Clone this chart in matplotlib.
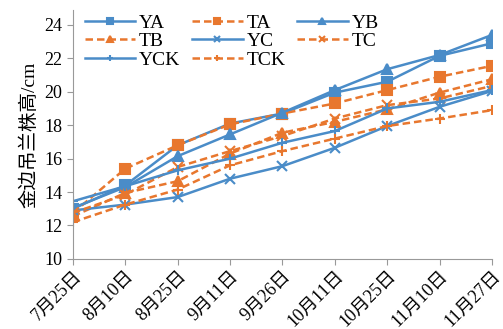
import numpy as np
import matplotlib
matplotlib.use('Agg')
import matplotlib.pyplot as plt

plt.rcParams['font.family'] = ['Liberation Serif', 'Noto Sans CJK SC']

dates = ['7月25日', '8月10日', '8月25日', '9月11日', '9月26日',
         '10月11日', '10月25日', '11月10日', '11月27日']

YA = [13.0, 14.4, 16.8, 18.1, 18.7, 19.95, 20.6, 22.15, 22.9]
TA = [12.75, 15.4, 16.8, 18.05, 18.7, 19.3, 20.1, 20.9, 21.55]
YB = [13.05, 14.3, 16.15, 17.45, 18.75, 20.1, 21.35, 22.2, 23.4]
TB = [12.55, 13.95, 14.65, 16.3, 17.55, 18.2, 18.95, 19.95, 20.75]
YC = [12.9, 13.25, 13.7, 14.8, 15.55, 16.65, 17.95, 19.1, 20.05]
TC = [12.75, 13.85, 15.5, 16.45, 17.35, 18.4, 19.2, 19.6, 20.35]
YCK = [13.45, 14.35, 15.3, 16.0, 16.95, 17.65, 19.0, 19.4, 20.1]
TCK = [12.2, 13.25, 14.15, 15.6, 16.45, 17.2, 17.95, 18.4, 18.9]

blue = '#4A8CC8'
orange = '#E8772E'

series = [
    ('YA', YA, blue, '-', 's'),
    ('TA', TA, orange, '--', 's'),
    ('YB', YB, blue, '-', '^'),
    ('TB', TB, orange, '--', '^'),
    ('YC', YC, blue, '-', 'x'),
    ('TC', TC, orange, '--', 'x'),
    ('YCK', YCK, blue, '-', '+'),
    ('TCK', TCK, orange, '--', '+'),
]

fig = plt.figure(figsize=(5.03, 3.29), dpi=100)
ax = fig.add_axes([0.145, 0.213, 0.833, 0.757])
x = np.arange(len(dates))

handles = {}
for name, vals, col, ls, mk in series:
    ms = 6.5 if mk in ('s', '^') else 7
    line, = ax.plot(x, vals, color=col, ls=ls, lw=1.8, marker=mk, ms=ms,
                    mew=1.5, label=name, dashes=(3, 1.6) if ls == '--' else (None, None))
    handles[name] = line

# legend is filled row by row in the original
order = ['YA', 'TB', 'YCK', 'TA', 'YC', 'TCK', 'YB', 'TC']
ax.legend([handles[n] for n in order], order, ncol=3, frameon=False,
          loc='upper left', bbox_to_anchor=(0.0, 1.03), fontsize=14,
          handlelength=2.6, handletextpad=0.2, columnspacing=0.6,
          labelspacing=0.05, borderaxespad=0.2, markerscale=0.6)

ax.set_xlim(0, len(dates) - 1)
ax.set_ylim(10, 24.9)
ax.set_yticks(range(10, 25, 2))
ax.set_xticks(x)
ax.set_xticklabels(dates, rotation=45, ha='right', rotation_mode='anchor')
ax.tick_params(axis='both', labelsize=13, color='#999999', direction='out', length=4)
ax.tick_params(axis='x', pad=2)
for s in ['top', 'right']:
    ax.spines[s].set_visible(False)
for s in ['left', 'bottom']:
    ax.spines[s].set_color('#999999')
ax.set_ylabel('金边吊兰株高/cm', fontsize=14, labelpad=4)

fig.savefig('out.png', dpi=100)
